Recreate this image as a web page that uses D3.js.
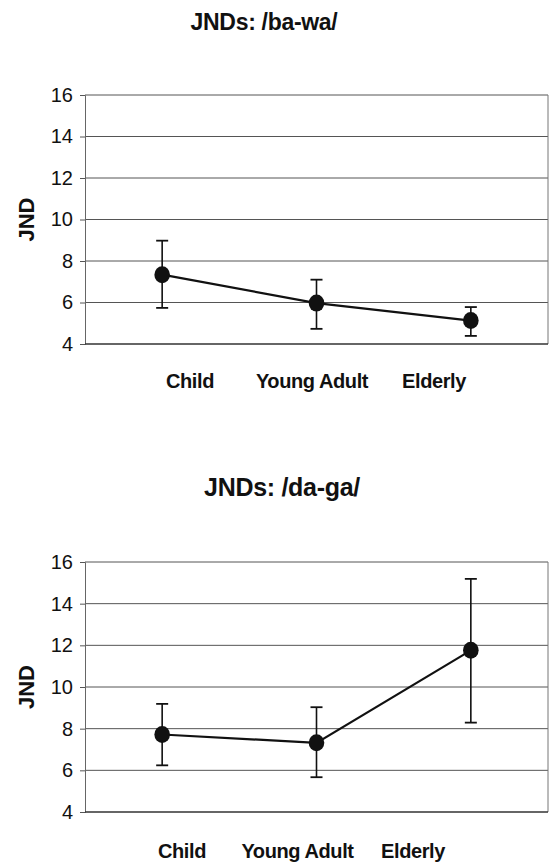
<!DOCTYPE html>
<html>
<head>
<meta charset="utf-8">
<script src="https://cdn.jsdelivr.net/npm/d3@7"></script>
<style>
  html, body { margin: 0; padding: 0; background: #fff; }
  svg { display: block; font-family: 'Liberation Sans', Arial, sans-serif; }
</style>
</head>
<body>
<svg id="chart" width="551" height="863"></svg>
<script>
// Data
const categories = ['Child', 'Young Adult', 'Elderly'];
const yTicks = [4, 6, 8, 10, 12, 14, 16];

const baWaMean = [7.34, 5.97, 5.13];
const baWaUpper = [8.98, 7.10, 5.78];
const baWaLower = [5.74, 4.73, 4.39];

const daGaMean = [7.72, 7.32, 11.76];
const daGaUpper = [9.19, 9.03, 15.19];
const daGaLower = [6.24, 5.67, 8.29];

const svg = d3.select('#chart');

function drawPanel(opts) {
  const { title, mean, upper, lower, top, bottom, titleX, titleY, titleSize, labelRange, labelY } = opts;
  const left = 85, right = 548;

  const x = d3.scaleBand().domain(categories).range([left, right]).padding(0);
  const y = d3.scaleLinear().domain([4, 16]).range([bottom, top]);
  const xLabel = d3.scalePoint().domain(categories).range(labelRange);

  const g = svg.append('g');

  // Title
  g.append('text')
    .attr('x', titleX)
    .attr('y', titleY)
    .attr('text-anchor', 'middle')
    .style('font-size', titleSize + 'px')
    .style('font-weight', 'bold')
    .style('letter-spacing', '-0.3px')
    .style('fill', '#111')
    .text(title);

  // Gridlines
  g.selectAll('.grid')
    .data(yTicks.filter(t => t > 4))
    .enter()
    .append('line')
    .attr('x1', left)
    .attr('x2', right)
    .attr('y1', d => y(d))
    .attr('y2', d => y(d))
    .attr('stroke', '#555')
    .attr('stroke-width', 1);

  // Right border
  g.append('line')
    .attr('x1', right).attr('x2', right)
    .attr('y1', y(16)).attr('y2', y(4))
    .attr('stroke', '#777')
    .attr('stroke-width', 1);

  // Left axis
  const axis = g.append('g')
    .attr('transform', `translate(${left},0)`)
    .call(d3.axisLeft(y).tickValues(yTicks).tickSize(5).tickPadding(7));
  axis.select('.domain').attr('stroke', '#666');
  axis.selectAll('.tick line').attr('stroke', '#555');
  axis.selectAll('.tick text')
    .style('font-size', '20px')
    .style('font-family', "'Liberation Sans', Arial, sans-serif")
    .attr('fill', '#111');

  // Bottom axis line
  g.append('line')
    .attr('x1', left).attr('x2', right)
    .attr('y1', y(4)).attr('y2', y(4))
    .attr('stroke', '#333')
    .attr('stroke-width', 1.6);

  // Y label
  g.append('text')
    .attr('transform', `translate(34,${(top + bottom) / 2}) rotate(-90)`)
    .attr('text-anchor', 'middle')
    .style('font-size', '22px')
    .style('font-weight', 'bold')
    .style('fill', '#111')
    .text('JND');

  // Category labels
  g.selectAll('.cat')
    .data(categories)
    .enter()
    .append('text')
    .attr('x', d => xLabel(d))
    .attr('y', labelY)
    .attr('text-anchor', 'middle')
    .style('font-size', '20px')
    .style('font-weight', 'bold')
    .style('letter-spacing', '-0.4px')
    .style('fill', '#111')
    .text(d => d);

  const pts = categories.map((c, i) => ({ c, m: mean[i], hi: upper[i], lo: lower[i] }));
  const cx = d => x(d.c) + x.bandwidth() / 2;

  // Error bars
  const eb = g.selectAll('.eb').data(pts).enter().append('g');
  eb.append('line')
    .attr('x1', cx).attr('x2', cx)
    .attr('y1', d => y(d.hi)).attr('y2', d => y(d.lo))
    .attr('stroke', '#111').attr('stroke-width', 1.6);
  eb.append('line')
    .attr('x1', d => cx(d) - 6).attr('x2', d => cx(d) + 6)
    .attr('y1', d => y(d.hi)).attr('y2', d => y(d.hi))
    .attr('stroke', '#111').attr('stroke-width', 1.8);
  eb.append('line')
    .attr('x1', d => cx(d) - 6).attr('x2', d => cx(d) + 6)
    .attr('y1', d => y(d.lo)).attr('y2', d => y(d.lo))
    .attr('stroke', '#111').attr('stroke-width', 1.8);

  // Connecting line
  g.append('path')
    .datum(pts)
    .attr('d', d3.line().x(cx).y(d => y(d.m)))
    .attr('fill', 'none')
    .attr('stroke', '#111')
    .attr('stroke-width', 2.2);

  // Markers
  g.selectAll('.pt').data(pts).enter().append('ellipse')
    .attr('cx', cx)
    .attr('cy', d => y(d.m))
    .attr('rx', 7.8)
    .attr('ry', 8.5)
    .attr('fill', '#111');
}

drawPanel({
  title: 'JNDs: /ba-wa/',
  mean: baWaMean, upper: baWaUpper, lower: baWaLower,
  top: 95, bottom: 344,
  titleX: 264, titleY: 30, titleSize: 23,
  labelRange: [190, 434], labelY: 388
});

drawPanel({
  title: 'JNDs: /da-ga/',
  mean: daGaMean, upper: daGaUpper, lower: daGaLower,
  top: 562, bottom: 812,
  titleX: 282, titleY: 496, titleSize: 25,
  labelRange: [182, 413], labelY: 858
});
</script>
</body>
</html>
